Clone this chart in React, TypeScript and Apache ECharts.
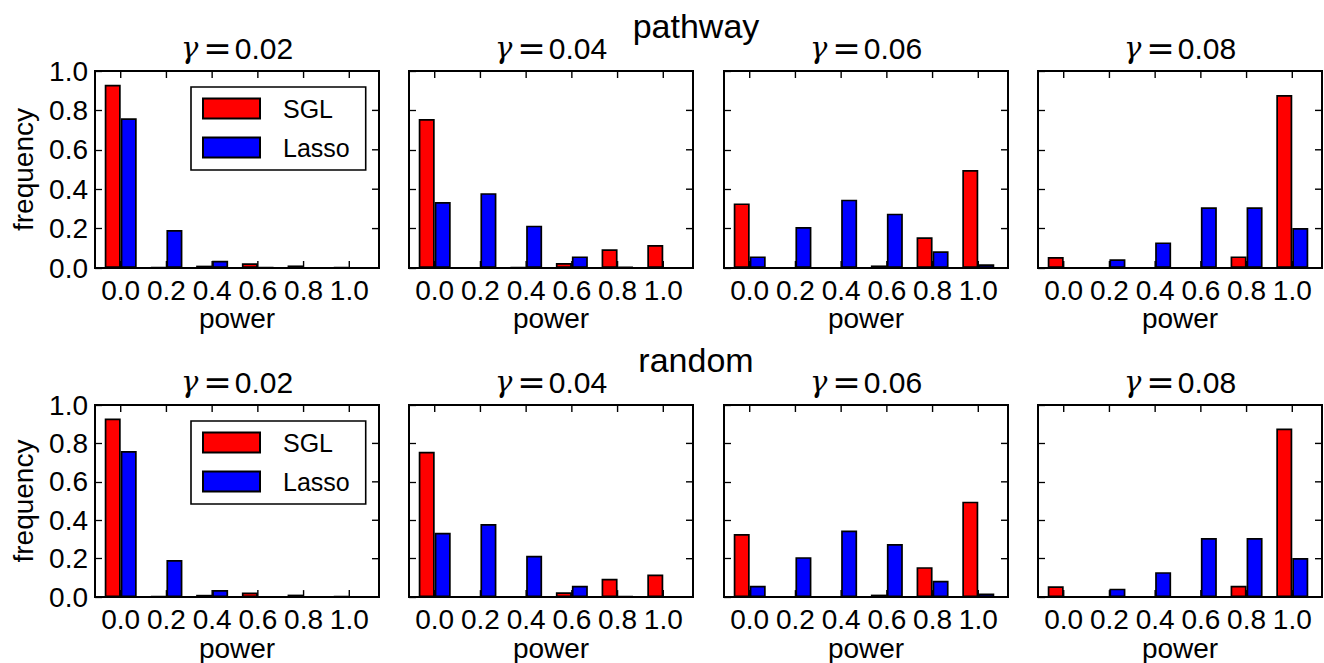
import React, { useEffect, useRef } from "react";
import * as echarts from "echarts";

// Power levels along the x axis (category positions of the grouped bars)
const powerLevels = [0.0, 0.2, 0.4, 0.6, 0.8, 1.0];
const yTicks = [0.0, 0.2, 0.4, 0.6, 0.8, 1.0];
const gammaLabels = ["0.02", "0.04", "0.06", "0.08"];
const rowTitles = ["pathway", "random"];
const seriesNames = ["SGL", "Lasso"];

// pathway: selection frequency per power level, one array per gamma
const pathwaySGL002 = [0.93, 0.005, 0.012, 0.024, 0.013, 0.005];
const pathwayLasso002 = [0.76, 0.193, 0.037, 0.003, 0.001, 0.001];
const pathwaySGL004 = [0.756, 0.0, 0.003, 0.025, 0.095, 0.117];
const pathwayLasso004 = [0.335, 0.38, 0.215, 0.059, 0.006, 0.0];
const pathwaySGL006 = [0.328, 0.0, 0.0, 0.013, 0.156, 0.497];
const pathwayLasso006 = [0.059, 0.208, 0.347, 0.276, 0.085, 0.019];
const pathwaySGL008 = [0.056, 0.0, 0.0, 0.002, 0.059, 0.878];
const pathwayLasso008 = [0.0, 0.044, 0.13, 0.308, 0.308, 0.203];

// random: selection frequency per power level, one array per gamma
const randomSGL002 = [0.93, 0.005, 0.012, 0.024, 0.013, 0.005];
const randomLasso002 = [0.76, 0.193, 0.037, 0.003, 0.001, 0.001];
const randomSGL004 = [0.756, 0.0, 0.003, 0.025, 0.095, 0.117];
const randomLasso004 = [0.335, 0.38, 0.215, 0.059, 0.006, 0.0];
const randomSGL006 = [0.328, 0.0, 0.0, 0.013, 0.156, 0.497];
const randomLasso006 = [0.059, 0.208, 0.347, 0.276, 0.085, 0.019];
const randomSGL008 = [0.056, 0.0, 0.0, 0.002, 0.059, 0.878];
const randomLasso008 = [0.0, 0.044, 0.13, 0.308, 0.308, 0.203];

const rowData = [
  {
    sgl: [pathwaySGL002, pathwaySGL004, pathwaySGL006, pathwaySGL008],
    lasso: [pathwayLasso002, pathwayLasso004, pathwayLasso006, pathwayLasso008],
  },
  {
    sgl: [randomSGL002, randomSGL004, randomSGL006, randomSGL008],
    lasso: [randomLasso002, randomLasso004, randomLasso006, randomLasso008],
  },
];

// Layout of the 2x4 panel grid (pixels)
const GRID_LEFTS = [95, 409, 724, 1038];
const GRID_W = 284;
const ROW_TOPS = [71, 405];
const GRID_H = 197;
const X_MIN = -0.1125;
const X_MAX = 1.13;
const Y_MIN = 0;
const Y_MAX = 1;
const TICK_LEN = 7;
const TICK_W = 1.4;

// tick kinds for the frame-tick series
const TICK_BOTTOM = 0;
const TICK_TOP = 1;
const TICK_RIGHT = 2;

const SANS = "Liberation Sans, Arial, sans-serif";
const SERIF = "DejaVu Serif, serif";
const TICK_FONT = 28;

function buildTitles() {
  const graphic: any[] = [];
  rowTitles.forEach((rowTitle, r) => {
    const top = ROW_TOPS[r];
    graphic.push({
      type: "text",
      x: 696,
      y: top - 45,
      style: {
        text: rowTitle,
        font: `34px ${SANS}`,
        fill: "#000",
        align: "center",
        verticalAlign: "middle",
      },
    });
    gammaLabels.forEach((gLabel, c) => {
      graphic.push({
        type: "text",
        x: GRID_LEFTS[c] + GRID_W / 2,
        y: top - 23,
        style: {
          text: `{g|γ}{e|=}{n|${gLabel}}`,
          align: "center",
          verticalAlign: "middle",
          rich: {
            g: { fontFamily: SERIF, fontStyle: "italic", fontSize: 29, fill: "#000", padding: [0, 5, 0, 0] },
            e: { fontFamily: SERIF, fontSize: 34, fill: "#000", padding: [0, 3, 0, 0] },
            n: { fontFamily: SANS, fontSize: 30, fill: "#000" },
          },
        },
      });
    });
  });
  return graphic;
}

// Inward ticks on the bottom, top and right frame edges, positioned through the panel's axes
function renderFrameTick(_params: any, api: any) {
  const v = api.value(0);
  const kind = api.value(1);
  if (kind === TICK_RIGHT) {
    const pt = api.coord([X_MAX, v]);
    if (!pt || !isFinite(pt[0]) || !isFinite(pt[1])) return null;
    return {
      type: "rect",
      silent: true,
      shape: { x: pt[0] - TICK_LEN, y: pt[1] - TICK_W / 2, width: TICK_LEN, height: TICK_W },
      style: { fill: "#000" },
    };
  }
  const atTop = kind === TICK_TOP;
  const pt = api.coord([v, atTop ? Y_MAX : Y_MIN]);
  if (!pt || !isFinite(pt[0]) || !isFinite(pt[1])) return null;
  return {
    type: "rect",
    silent: true,
    shape: {
      x: pt[0] - TICK_W / 2,
      y: atTop ? pt[1] : pt[1] - TICK_LEN,
      width: TICK_W,
      height: TICK_LEN,
    },
    style: { fill: "#000" },
  };
}

function buildOption() {
  const grid: any[] = [];
  const xAxis: any[] = [];
  const yAxis: any[] = [];
  const series: any[] = [];
  const legend: any[] = [];

  const fmt = (v: number) => v.toFixed(1);
  const noLine = { show: false, onZero: false };

  const frameTickData = [
    ...powerLevels.map((p) => [p, TICK_BOTTOM]),
    ...powerLevels.map((p) => [p, TICK_TOP]),
    ...yTicks.map((v) => [v, TICK_RIGHT]),
  ];

  rowTitles.forEach((_rowTitle, r) => {
    const top = ROW_TOPS[r];
    gammaLabels.forEach((_gLabel, c) => {
      const g = r * 4 + c;
      grid.push({
        left: GRID_LEFTS[c],
        top,
        width: GRID_W,
        height: GRID_H,
        show: true,
        borderColor: "#000",
        borderWidth: 2,
        backgroundColor: "transparent",
      });

      xAxis.push({
        gridIndex: g,
        type: "value",
        position: "bottom",
        min: X_MIN,
        max: X_MAX,
        axisLine: noLine,
        splitLine: { show: false },
        axisTick: { show: false },
        axisLabel: {
          customValues: powerLevels,
          formatter: fmt,
          fontSize: TICK_FONT,
          fontFamily: SANS,
          color: "#000",
          margin: 8,
        },
        name: "power",
        nameLocation: "middle",
        nameGap: 31,
        nameTextStyle: { fontSize: TICK_FONT, fontFamily: SANS, color: "#000" },
      });

      yAxis.push({
        gridIndex: g,
        type: "value",
        position: "left",
        min: Y_MIN,
        max: Y_MAX,
        interval: 0.2,
        axisLine: noLine,
        splitLine: { show: false },
        axisTick: {
          show: true,
          inside: true,
          length: TICK_LEN,
          customValues: yTicks,
          lineStyle: { color: "#000", width: 1.3 },
        },
        axisLabel: {
          show: c === 0,
          customValues: yTicks,
          formatter: fmt,
          fontSize: TICK_FONT,
          fontFamily: SANS,
          color: "#000",
          margin: 7,
        },
        name: c === 0 ? "frequency" : "",
        nameLocation: "middle",
        nameGap: 58,
        nameRotate: 90,
        nameTextStyle: { fontSize: TICK_FONT, fontFamily: SANS, color: "#000" },
      });

      const sgl = rowData[r].sgl[c];
      const lasso = rowData[r].lasso[c];
      series.push({
        type: "bar",
        name: seriesNames[0],
        xAxisIndex: g,
        yAxisIndex: g,
        data: powerLevels.map((p, i) => [p, sgl[i]]),
        barWidth: 16,
        barGap: "0%",
        itemStyle: { color: "#ff0000", borderColor: "#000", borderWidth: 1.7 },
      });
      series.push({
        type: "bar",
        name: seriesNames[1],
        xAxisIndex: g,
        yAxisIndex: g,
        data: powerLevels.map((p, i) => [p, lasso[i]]),
        barWidth: 16,
        barGap: "0%",
        itemStyle: { color: "#0000ff", borderColor: "#000", borderWidth: 1.7 },
      });
      series.push({
        type: "custom",
        name: "frame ticks",
        xAxisIndex: g,
        yAxisIndex: g,
        silent: true,
        clip: false,
        z: 5,
        data: frameTickData,
        renderItem: renderFrameTick,
      });
    });

    legend.push({
      left: 191,
      top: top + 16,
      orient: "vertical",
      data: seriesNames,
      icon: "rect",
      itemWidth: 57,
      itemHeight: 20,
      itemGap: 14,
      padding: [9, 16, 10, 11],
      borderColor: "#000",
      borderWidth: 1.6,
      backgroundColor: "#fff",
      selectedMode: false,
      textStyle: {
        fontSize: 25,
        fontFamily: SANS,
        color: "#000",
        padding: [0, 0, 0, 18],
      },
    });
  });

  return {
    animation: false,
    backgroundColor: "#fff",
    grid,
    xAxis,
    yAxis,
    series,
    legend,
    graphic: buildTitles(),
  };
}

export default function App() {
  const ref = useRef<HTMLDivElement>(null);
  useEffect(() => {
    if (!ref.current) return;
    const chart = echarts.init(ref.current, null, { renderer: "svg" });
    chart.setOption(buildOption() as any);
    return () => chart.dispose();
  }, []);
  return (
    <div
      ref={ref}
      style={{ position: "absolute", left: 0, top: 0, width: 1324, height: 663 }}
    />
  );
}
